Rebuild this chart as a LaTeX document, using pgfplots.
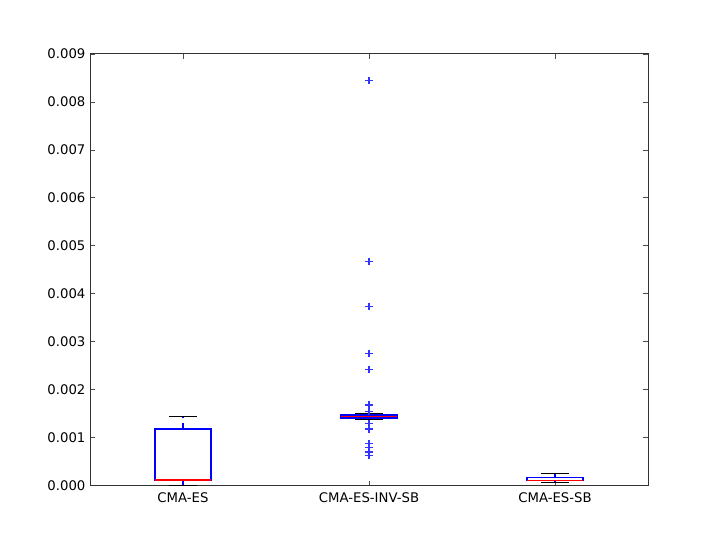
\documentclass[border=0pt]{standalone}
\usepackage{fontspec}
\setmainfont{DejaVu Sans}
\usepackage{pgfplots}
\pgfplotsset{compat=1.18}
\usepgfplotslibrary{statistics}

\definecolor{mplblue}{rgb}{0,0,1}
\definecolor{mplred}{rgb}{1,0,0}

\pgfplotsset{
  mplbox/.style={
    draw=mplblue, line width=1.2bp, mark=none,
    boxplot/draw direction=y,
    boxplot/box extend=0.3,
    boxplot/whisker extend=0.15,
    boxplot/draw/box/.code={},
    boxplot/draw/median/.code={%
      \draw[draw=mplblue, solid, line width=1.3bp]
        (boxplot box cs:\pgfplotsboxplotvalue{lower quartile},0) rectangle
        (boxplot box cs:\pgfplotsboxplotvalue{upper quartile},1);
      \draw[draw=mplred, solid, line width=1.5bp]
        (boxplot box cs:\pgfplotsboxplotvalue{median},0) --
        (boxplot box cs:\pgfplotsboxplotvalue{median},1);
    },
    boxplot/draw/lower whisker/.code={%
      \draw[draw=mplblue, line width=1.2bp, dash pattern=on 6bp off 6bp]
        (boxplot box cs:\pgfplotsboxplotvalue{lower whisker},0.5) --
        (boxplot box cs:\pgfplotsboxplotvalue{lower quartile},0.5);
      \draw[draw=black, solid, line width=1.2bp]
        (boxplot whisker cs:\pgfplotsboxplotvalue{lower whisker},0) --
        (boxplot whisker cs:\pgfplotsboxplotvalue{lower whisker},1);
    },
    boxplot/draw/upper whisker/.code={%
      \draw[draw=mplblue, line width=1.2bp, dash pattern=on 6bp off 6bp]
        (boxplot box cs:\pgfplotsboxplotvalue{upper quartile},0.5) --
        (boxplot box cs:\pgfplotsboxplotvalue{upper whisker},0.5);
      \draw[draw=black, solid, line width=1.2bp]
        (boxplot whisker cs:\pgfplotsboxplotvalue{upper whisker},0) --
        (boxplot whisker cs:\pgfplotsboxplotvalue{upper whisker},1);
    },
  },
}

\begin{document}
\fontsize{13.3}{16}\selectfont
\begin{tikzpicture}
\path[use as bounding box] (-90bp,-54.4bp) rectangle (630bp,485.6bp);
% values are in units of 0.001
\begin{axis}[
  at={(0,0)}, anchor=south west,
  scale only axis, width=558bp, height=431.6bp,
  xmin=0.5, xmax=3.5, ymin=0, ymax=9,
  xtick={1,2,3},
  xticklabels={CMA-ES,CMA-ES-INV-SB,CMA-ES-SB},
  ytick={0,1,2,3,4,5,6,7,8,9},
  yticklabels={0.000,0.001,0.002,0.003,0.004,0.005,0.006,0.007,0.008,0.009},
  tick align=inside, major tick length=5bp,
  axis line style={draw=black!80, line width=1bp},
  every tick/.style={draw=black!70, line width=0.8bp},
  xticklabel style={yshift=-2bp},
]
% CMA-ES
\addplot[mplbox, boxplot prepared={draw position=1,
  median=0.12, lower quartile=0.105, upper quartile=1.18,
  lower whisker=0.01, upper whisker=1.436}]
  coordinates {};
% CMA-ES-INV-SB
\addplot[mplbox, boxplot prepared={draw position=2,
  median=1.44, lower quartile=1.41, upper quartile=1.47,
  lower whisker=1.39, upper whisker=1.50}]
  coordinates {};
% CMA-ES-SB
\addplot[mplbox, boxplot prepared={draw position=3,
  median=0.105, lower quartile=0.10, upper quartile=0.17,
  lower whisker=0.07, upper whisker=0.254}]
  coordinates {};
% outliers of CMA-ES-INV-SB
\addplot[draw=mplblue, only marks, mark=+, mark size=3.6bp,
  mark options={draw=mplblue!80, solid, line width=1.1bp}]
  coordinates {(2,8.44) (2,4.67) (2,3.74) (2,2.76) (2,2.42)
    (2,1.68) (2,1.55) (2,1.30) (2,1.18) (2,0.88)
    (2,0.80) (2,0.70) (2,0.62)};
\end{axis}
\end{tikzpicture}
\end{document}
